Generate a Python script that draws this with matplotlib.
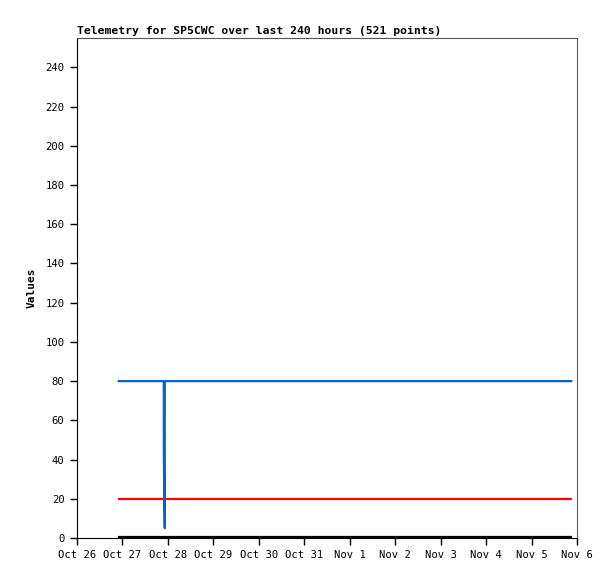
import datetime as dt
import matplotlib
matplotlib.use("Agg")
import matplotlib.pyplot as plt

# telemetry series (time, value) - key points
blue_times = [dt.datetime(2023, 10, 26, 21, 30), dt.datetime(2023, 10, 27, 21, 50),
              dt.datetime(2023, 10, 27, 21, 51), dt.datetime(2023, 10, 27, 22, 20),
              dt.datetime(2023, 10, 27, 22, 21), dt.datetime(2023, 11, 5, 21, 30)]
blue_vals = [80, 80, 42, 5, 80, 80]
red_times = [dt.datetime(2023, 10, 26, 21, 30), dt.datetime(2023, 11, 5, 21, 30)]
red_vals = [20, 20]
black_times = [dt.datetime(2023, 10, 26, 21, 30), dt.datetime(2023, 11, 5, 21, 30)]
black_vals = [0.4, 0.4]

tick_days = [dt.datetime(2023, 10, 26) + dt.timedelta(days=i) for i in range(12)]
tick_labels = ["Oct 26", "Oct 27", "Oct 28", "Oct 29", "Oct 30", "Oct 31",
               "Nov 1", "Nov 2", "Nov 3", "Nov 4", "Nov 5", "Nov 6"]

plt.rcParams["font.family"] = ["DejaVu Sans Mono"]
plt.rcParams["font.size"] = 7.6

fig = plt.figure(figsize=(6.15, 5.79), dpi=100)
ax = fig.add_axes([77 / 615, 1 - 538 / 579, 500 / 615, 500 / 579])

ax.plot(black_times, black_vals, color="black", lw=1.6, solid_capstyle="butt")
ax.plot(red_times, red_vals, color="#ff0000", lw=1.6, solid_capstyle="butt")
ax.plot(blue_times, blue_vals, color="#0066cc", lw=1.6, solid_capstyle="butt")

ax.set_xlim(tick_days[0], tick_days[-1])
ax.set_ylim(0, 255)
ax.set_xticks(tick_days)
ax.set_xticklabels(tick_labels)
ax.set_yticks(range(0, 241, 20))
ax.tick_params(direction="out", length=5, width=1, color="black", pad=4)

for s in ["top", "right"]:
    ax.spines[s].set_color("#555555")
for s in ["left", "bottom"]:
    ax.spines[s].set_color("black")

ax.set_ylabel("Values", fontweight="bold", fontsize=8, labelpad=6)
ax.set_title("Telemetry for SP5CWC over last 240 hours (521 points)",
             loc="left", fontweight="bold", fontsize=8.2, pad=3)

fig.savefig("out.png", dpi=100)
